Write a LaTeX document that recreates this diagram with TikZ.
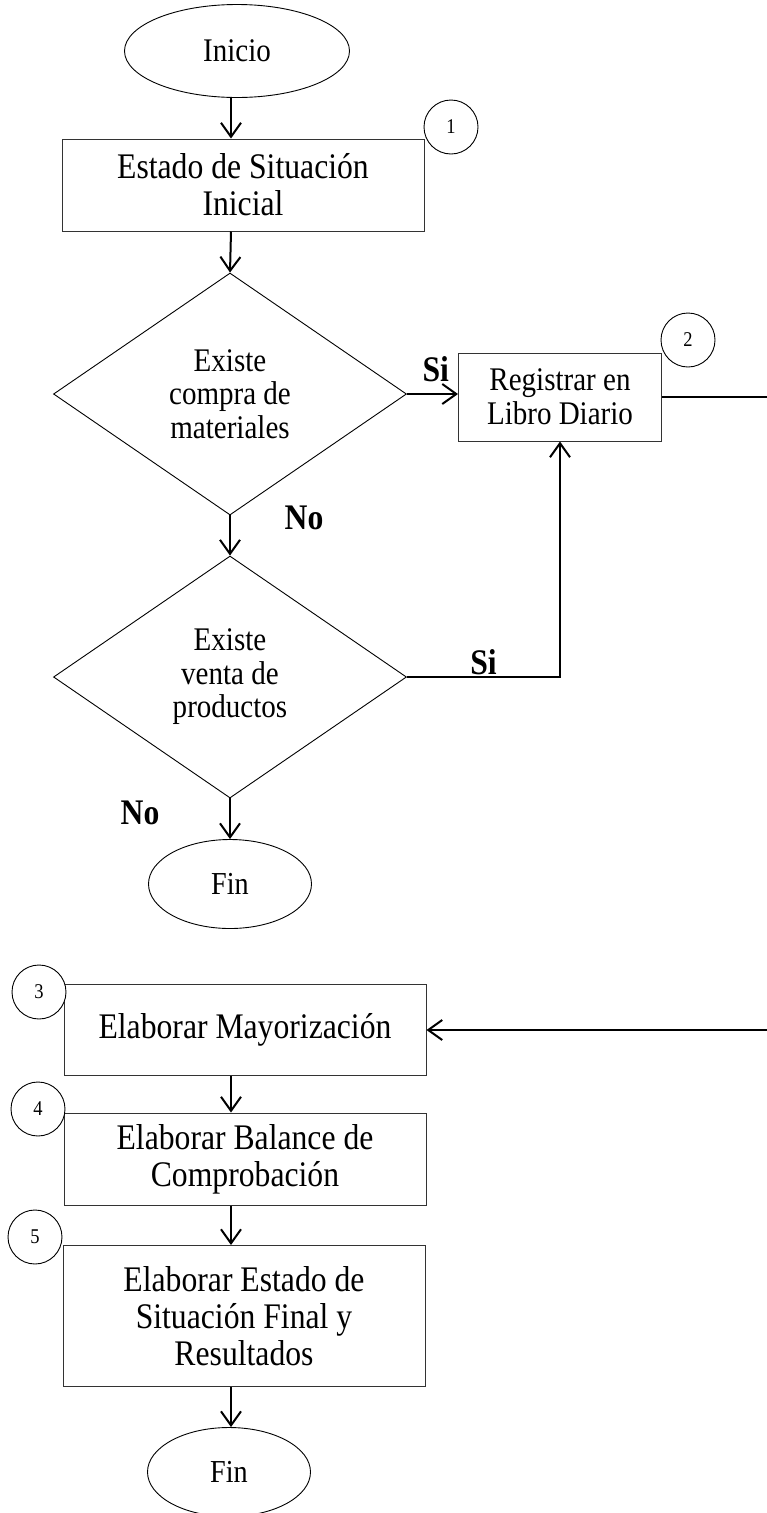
\documentclass[tikz,border=0pt]{standalone}
\usepackage{fontspec}
\setmainfont{Liberation Serif}[FakeStretch=0.88]
\usetikzlibrary{shapes.geometric,arrows.meta}

\tikzset{
  proceso/.style={draw=black!80, line width=1pt, rectangle, minimum width=362pt,
    inner sep=0pt, align=center, font=\fontsize{36}{37}\selectfont},
  decision/.style={draw, line width=0.9pt, diamond, aspect=1.46, minimum width=353pt,
    minimum height=242pt, inner sep=0pt, align=center, font=\fontsize{33}{33.5}\selectfont},
  terminal/.style={draw, line width=0.9pt, ellipse, inner sep=0pt,
    font=\fontsize{32}{33}\selectfont},
  paso/.style={draw, fill=white, line width=0.9pt, circle, minimum size=54pt,
    inner sep=0pt, font=\fontsize{21}{22}\selectfont},
  flecha/.style={line width=2pt, -{Straight Barb[length=14pt,width=20pt]}},
  resp/.style={inner sep=0pt, font=\bfseries\fontsize{36}{36}\selectfont},
}

\begin{document}
\begin{tikzpicture}[x=1pt, y=-1pt]
 \useasboundingbox (0,0) rectangle (766,1513);
 % eje principal y retorno
 \coordinate (eje) at (231,0);
 \coordinate (retorno) at (778,0);

 \node[terminal, minimum width=225pt, minimum height=93pt, font=\fontsize{33}{33}\selectfont] (inicio) at (237,51) {Inicio};
 \node[proceso, minimum height=92pt] (estado) at (243,185) {Estado de Situación\\Inicial};
 \node[decision] (compra) at (230,394) {Existe\\compra de\\materiales};
 \node[proceso, minimum width=203pt, minimum height=88pt, font=\fontsize{33}{34}\selectfont] (registro) at (560,397) {Registrar en\\Libro Diario};
 \node[decision] (venta) at (230,677) {Existe\\venta de\\productos};
 \node[terminal, minimum width=163pt, minimum height=89pt] (fin1) at (230,884) {Fin};

 \node[proceso, minimum height=91pt] (mayor) at (245,1030) {Elaborar Mayorización};
 \node[proceso, minimum height=92pt] (balance) at (245,1159) {Elaborar Balance de\\Comprobación};
 \node[proceso, minimum height=141pt] (final) at (244,1316) {Elaborar Estado de\\Situación Final y\\Resultados};
 \node[terminal, minimum width=163pt, minimum height=89pt] (fin2) at (229,1472) {Fin};

 % numeros de paso
 \node[paso] (p1) at (451,127) {1};
 \node[paso] (p2) at (688,340) {2};
 \node[paso] (p3) at (39,992) {3};
 \node[paso] (p4) at (38,1109) {4};
 \node[paso] (p5) at (35,1237) {5};

 \draw[flecha] (eje |- inicio.south) -- (eje |- estado.north);
 \draw[flecha] (eje |- estado.south) -- (compra.north);
 \draw[flecha] (compra.east) -- (compra.east -| registro.west)
   node[resp, anchor=south east, xshift=-8pt, yshift=11pt] {Si};
 \draw[flecha] (compra.south) -- (venta.north)
   node[resp, pos=0.05, xshift=74pt] {No};
 \draw[flecha] (venta.east) -| (registro.south)
   node[resp, pos=0.25, anchor=south, yshift=1pt] {Si};
 \draw[flecha] (venta.south) -- (fin1.north)
   node[resp, pos=0.35, xshift=-90pt] {No};
 \draw[flecha] (registro.east) -- (registro.east -| retorno) |- (mayor.east);

 \draw[flecha] (eje |- mayor.south) -- (eje |- balance.north);
 \draw[flecha] (eje |- balance.south) -- (eje |- final.north);
 \draw[flecha] (eje |- final.south) -- (eje |- fin2.north);
\end{tikzpicture}
\end{document}
